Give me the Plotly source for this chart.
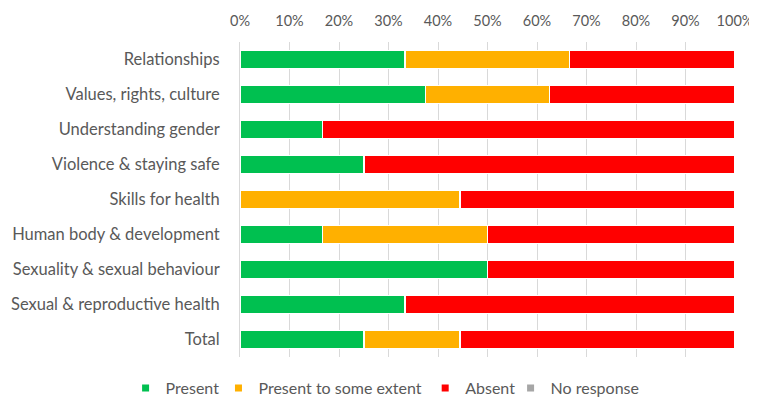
import plotly.graph_objects as go

categories = ["Relationships", "Values, rights, culture", "Understanding gender",
              "Violence & staying safe", "Skills for health", "Human body & development",
              "Sexuality & sexual behaviour", "Sexual & reproductive health", "Total"]
present = [33.3, 37.5, 16.7, 25.0, 0.0, 16.7, 50.0, 33.3, 25.0]
some_extent = [33.3, 25.0, 0.0, 0.0, 44.4, 33.3, 0.0, 0.0, 19.4]
absent = [33.4, 37.5, 83.3, 75.0, 55.6, 50.0, 50.0, 66.7, 55.6]
no_response = [0, 0, 0, 0, 0, 0, 0, 0, 0]
tick_vals = [0, 10, 20, 30, 40, 50, 60, 70, 80, 90, 100]

series = [
    ("Present", present, "#00C050"),
    ("Present to some extent", some_extent, "#FFB000"),
    ("Absent", absent, "#FF0000"),
    ("No response", no_response, "#A6A6A6"),
]
# left edge of each legend entry (fraction of the figure width)
legend_x = [0.157, 0.281, 0.557, 0.671]

fig = go.Figure()
for name, vals, col in series:
    fig.add_trace(go.Bar(
        y=categories, x=vals, name=name, orientation="h", legendgroup=name,
        showlegend=False,
        marker=dict(color=col, line=dict(color="white", width=1.5)),
    ))

# one small legend per entry so the keys sit where Excel put them
legends = {}
for i, (name, vals, col) in enumerate(series):
    lid = "legend" if i == 0 else f"legend{i + 1}"
    fig.add_trace(go.Scatter(
        x=[None], y=[None], mode="markers", name=name, legendgroup=name,
        legend=lid, marker=dict(symbol="square", size=7, color=col),
    ))
    legends[lid] = dict(orientation="h", xref="container", yref="container",
                        x=legend_x[i], xanchor="left", y=0.033, yanchor="middle",
                        font=dict(size=16), itemwidth=30, bgcolor="rgba(0,0,0,0)")

# page body has an 8px margin, so the figure is a bit smaller than the window
fig.update_layout(
    barmode="stack",
    bargap=0.48,
    width=749, height=393,
    margin=dict(l=232, r=22, t=34, b=44),
    paper_bgcolor="white", plot_bgcolor="white",
    font=dict(family="Lato", size=16, color="#595959"),
    xaxis=dict(side="top", range=[0, 100], tickvals=tick_vals,
               ticktext=[f"{v}%" for v in tick_vals], automargin=False,
               showgrid=True, gridcolor="#D9D9D9", gridwidth=1,
               zeroline=False, showline=False, ticks="", ticklabelstandoff=12,
               tickfont=dict(size=14.5)),
    yaxis=dict(autorange="reversed", showline=True, linecolor="#D9D9D9",
               automargin=False, ticks="", ticklabelstandoff=16,
               tickfont=dict(size=16.5)),
    **legends,
)

fig.write_html("out.html")
